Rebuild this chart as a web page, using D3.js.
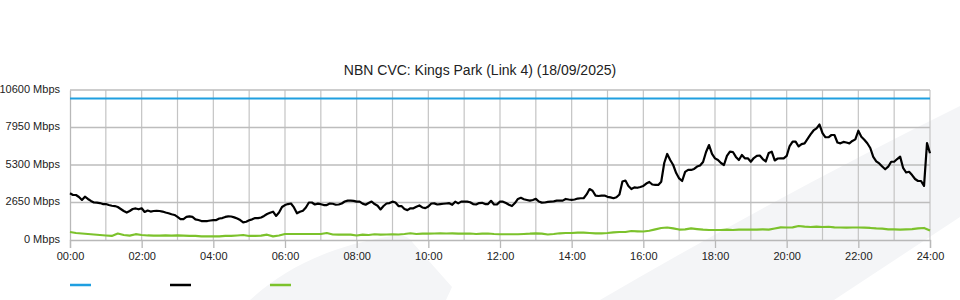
<!DOCTYPE html>
<html>
<head>
<meta charset="utf-8">
<script src="https://cdn.jsdelivr.net/npm/d3@7"></script>
<style>
    body { margin: 0; background: #fff; }
    text { font-family: "Liberation Sans", Arial, sans-serif; fill: #222; }
</style>
</head>
<body>
<div class="chart"></div>
<script>

// chart title
const title = "NBN CVC: Kings Park (Link 4) (18/09/2025)";

// x axis labels (every 2 hours)
const timeLabels = ["00:00", "02:00", "04:00", "06:00", "08:00", "10:00", "12:00",
    "14:00", "16:00", "18:00", "20:00", "22:00", "24:00"];

// y axis ticks (Mbps)
const yTicks = [0, 2650, 5300, 7950, 10600];

// link capacity (Mbps)
const capacity = 10000;

// traffic, one value every 5 minutes (Mbps), 00:00 -> 24:00
const trafficStep = 5;
const traffic = [
    3300, 3180, 3180, 3040, 2830, 3060, 2900, 2760, 2650, 2640, 2610, 2540,
    2540, 2470, 2420, 2400, 2330, 2190, 2050, 1940, 2050, 2190, 2230, 2170,
    2240, 1980, 2080, 2010, 2050, 2060, 2050, 2010, 1940, 1890, 1820, 1770,
    1630, 1480, 1480, 1630, 1670, 1630, 1460, 1410, 1340, 1340, 1340, 1380,
    1410, 1410, 1520, 1550, 1630, 1670, 1660, 1600, 1520, 1410, 1250, 1290,
    1390, 1460, 1550, 1550, 1590, 1700, 1840, 1930, 2000, 1700, 1940, 2330,
    2470, 2540, 2580, 2300, 1890, 2000, 2070, 2300, 2650, 2650, 2510, 2570,
    2530, 2470, 2470, 2580, 2560, 2490, 2510, 2580, 2720, 2780, 2780, 2760,
    2710, 2710, 2570, 2490, 2610, 2720, 2540, 2420, 2160, 2400, 2580, 2610,
    2710, 2650, 2400, 2400, 2190, 2110, 2240, 2240, 2350, 2440, 2300, 2250,
    2370, 2580, 2590, 2510, 2540, 2560, 2580, 2600, 2490, 2710, 2590, 2710,
    2710, 2710, 2670, 2540, 2510, 2610, 2630, 2540, 2540, 2770, 2510, 2520,
    2710, 2710, 2610, 2490, 2400, 2610, 2900, 2980, 2880, 2830, 2780, 2830,
    2910, 2720, 2640, 2650, 2690, 2710, 2730, 2780, 2780, 2780, 2900, 2860,
    2830, 2860, 2930, 2950, 2950, 3220, 3600, 3480, 3140, 3110, 3140, 3140,
    3050, 3010, 2950, 3020, 3220, 4130, 4200, 3820, 3600, 3720, 3690, 3750,
    3820, 3990, 4100, 3920, 3890, 3890, 4120, 5440, 6080, 5650, 5300, 4730,
    4350, 4170, 4810, 4950, 4950, 5020, 5190, 5260, 5510, 6220, 6710, 6080,
    5770, 5650, 5440, 5300, 5940, 6240, 6220, 5870, 5650, 6010, 5770, 5770,
    5530, 5790, 5940, 5970, 5720, 5550, 6150, 6240, 5620, 5760, 5770, 5770,
    5940, 6640, 6950, 6950, 6610, 6780, 6830, 7140, 7460, 7740, 7890, 8160,
    7560, 7260, 7260, 7420, 7420, 6890, 6830, 6930, 6890, 6830, 7000, 7110,
    7720, 7300, 7090, 6840, 6500, 5870, 5560, 5410, 5190, 5000, 5180, 5530,
    5530, 5720, 5890, 5090, 4770, 4820, 4590, 4310, 4170, 4170, 3820, 6850,
    6130
];

// second series, one value every 10 minutes (Mbps)
const lowStep = 10;
const low = [
    565, 495, 460, 425, 390, 355,
    320, 285, 460, 355, 305, 410,
    355, 320, 305, 305, 320, 305,
    320, 305, 285, 285, 260, 260,
    260, 260, 285, 285, 320, 355,
    285, 285, 305, 375, 260, 320,
    425, 425, 425, 425, 425, 425,
    425, 495, 390, 375, 390, 375,
    320, 375, 355, 405, 375, 390,
    405, 390, 425, 475, 425, 445,
    445, 460, 475, 460, 475, 445,
    445, 460, 425, 445, 460, 425,
    405, 405, 405, 405, 425, 445,
    475, 445, 390, 425, 475, 495,
    495, 515, 515, 495, 475, 475,
    495, 545, 565, 565, 635, 615,
    600, 655, 755, 850, 885, 825,
    740, 755, 825, 775, 730, 705,
    705, 705, 730, 705, 730, 740,
    740, 730, 755, 730, 815, 895,
    885, 895, 990, 940, 920, 940,
    920, 935, 895, 885, 870, 885,
    885, 870, 850, 815, 800, 755,
    755, 740, 755, 775, 815, 850,
    670
];

const colors = { capacity: "#1f9fe0", traffic: "#000000", low: "#7cc22c" };

Chart(".chart");

function Chart(container) {

    const margin = ({top: 90, right: 30, bottom: 60, left: 70});
    const width = 960 - margin.left - margin.right,
        height = 300 - margin.top - margin.bottom;

    const root = d3.select(container)
        .append("svg")
        .attr("width", 960)
        .attr("height", 300);

    // faint background logo
    root.append("path")
        .attr("d", "M250,300 C285,268 330,246 392,236 Q407,233 413,243 L452,287 L446,300 Z")
        .attr("fill", "#f4f5f7");
    root.append("path")
        .attr("d", "M600,300 Q780,195 960,106 L960,217 L834,300 Z")
        .attr("fill", "#f4f5f7");

    root.append("text")
        .attr("x", 480)
        .attr("y", 75)
        .attr("text-anchor", "middle")
        .style("font-size", "14px")
        .text(title);

    const svg = root.append("g")
        .attr("transform", "translate(" + margin.left + "," + margin.top + ")");

    // scales (x in minutes since midnight)
    const xScale = d3.scaleLinear()
        .domain([0, 24 * 60])
        .range([0, width]);

    const yScale = d3.scaleLinear()
        .domain([0, d3.max(yTicks)])
        .range([height, 0]);

    // vertical grid, one line per hour
    svg.append("g")
        .selectAll("line")
        .data(d3.range(1, 25))
        .join("line")
        .attr("x1", d => xScale(d * 60))
        .attr("x2", d => xScale(d * 60))
        .attr("y1", 0)
        .attr("y2", height)
        .attr("stroke", "#c4c4c4")
        .attr("stroke-width", 1.2);

    // horizontal grid
    svg.append("g")
        .selectAll("line")
        .data(yTicks.slice(1))
        .join("line")
        .attr("x1", 0)
        .attr("x2", width)
        .attr("y1", d => yScale(d))
        .attr("y2", d => yScale(d))
        .attr("stroke", "#bdbdbd")
        .attr("stroke-width", 1.3);

    // axes
    const xAxis = d3.axisBottom(xScale)
        .tickValues(timeLabels.map((d, i) => i * 120))
        .tickFormat((d, i) => timeLabels[i])
        .tickSize(8)
        .tickPadding(4);

    const yAxis = d3.axisLeft(yScale)
        .tickValues(yTicks)
        .tickFormat(d => d + " Mbps")
        .tickSize(0)
        .tickPadding(10);

    const xAxisGroup = svg.append("g")
        .attr("class", "axis x-axis")
        .attr("transform", "translate(0," + height + ")")
        .call(xAxis);

    const yAxisGroup = svg.append("g")
        .attr("class", "axis y-axis")
        .call(yAxis);

    xAxisGroup.select(".domain").attr("stroke", "#b8b8b8").attr("stroke-width", 1.3);
    xAxisGroup.selectAll(".tick line").attr("stroke", "#b8b8b8").attr("stroke-width", 1.3);
    yAxisGroup.select(".domain").attr("stroke", "#b8b8b8").attr("stroke-width", 1.3);
    svg.selectAll(".axis text")
        .attr("fill", "#222")
        .style("font-family", "'Liberation Sans', Arial, sans-serif")
        .style("font-size", "11px");
    yAxisGroup.selectAll(".tick text").attr("dy", "0.2em");

    // lines
    const line = step => d3.line()
        .x((d, i) => xScale(i * step))
        .y(d => yScale(d));

    svg.append("path")
        .datum([capacity, capacity])
        .attr("fill", "none")
        .attr("stroke", colors.capacity)
        .attr("stroke-width", 2)
        .attr("d", line(24 * 60));

    svg.append("path")
        .datum(low)
        .attr("fill", "none")
        .attr("stroke", colors.low)
        .attr("stroke-width", 2.2)
        .attr("stroke-linejoin", "round")
        .attr("d", line(lowStep));

    svg.append("path")
        .datum(traffic)
        .attr("fill", "none")
        .attr("stroke", colors.traffic)
        .attr("stroke-width", 2.2)
        .attr("stroke-linejoin", "round")
        .attr("d", line(trafficStep));

    // legend (no labels, just swatches)
    const legend = root.append("g")
        .selectAll("line")
        .data([colors.capacity, colors.traffic, colors.low])
        .join("line")
        .attr("x1", (d, i) => 70 + i * 100)
        .attr("x2", (d, i) => 91 + i * 100)
        .attr("y1", 285)
        .attr("y2", 285)
        .attr("stroke", d => d)
        .attr("stroke-width", 2.5);
}
</script>
</body>
</html>
